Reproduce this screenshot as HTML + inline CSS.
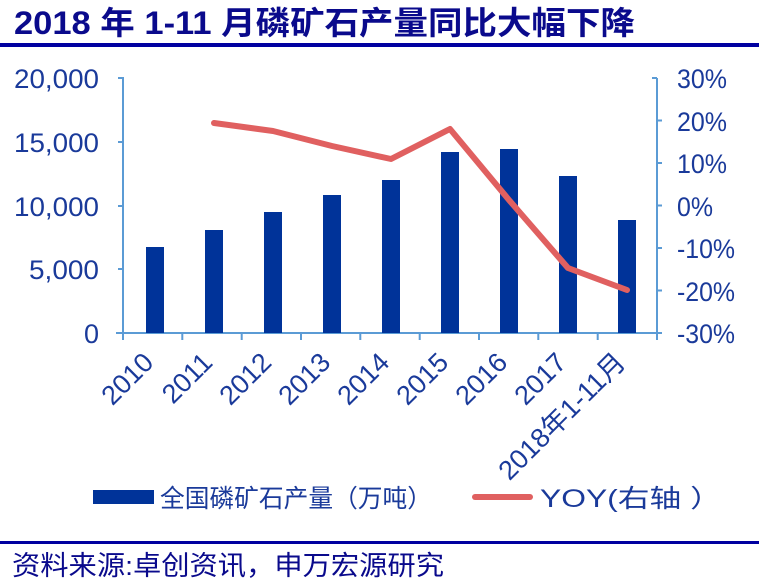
<!DOCTYPE html>
<html><head><meta charset="utf-8"><style>
html,body{margin:0;padding:0;background:#fff;}
svg{display:block;}
text{font-family:"Liberation Sans","Noto Sans CJK SC",sans-serif;}
</style></head><body>
<svg width="759" height="585" viewBox="0 0 759 585" xmlns="http://www.w3.org/2000/svg">
<text x="14" y="34" font-size="32" font-weight="bold" fill="#0a0a8c" textLength="621" lengthAdjust="spacingAndGlyphs">2018 年 1-11 月磷矿石产量同比大幅下降</text>
<rect x="0" y="43" width="759" height="4" fill="#0000a0"/>
<g fill="#1a3a9a" font-size="27">
<text x="99" y="88" text-anchor="end" textLength="85" lengthAdjust="spacingAndGlyphs">20,000</text>
<text x="99" y="152" text-anchor="end" textLength="85" lengthAdjust="spacingAndGlyphs">15,000</text>
<text x="99" y="216" text-anchor="end" textLength="85" lengthAdjust="spacingAndGlyphs">10,000</text>
<text x="99" y="279" text-anchor="end" textLength="70" lengthAdjust="spacingAndGlyphs">5,000</text>
<text x="99" y="343" text-anchor="end">0</text>
<text x="677" y="88" textLength="50" lengthAdjust="spacingAndGlyphs">30%</text>
<text x="677" y="131" textLength="50" lengthAdjust="spacingAndGlyphs">20%</text>
<text x="677" y="173" textLength="50" lengthAdjust="spacingAndGlyphs">10%</text>
<text x="677" y="216" textLength="36" lengthAdjust="spacingAndGlyphs">0%</text>
<text x="677" y="258" textLength="58" lengthAdjust="spacingAndGlyphs">-10%</text>
<text x="677" y="301" textLength="58" lengthAdjust="spacingAndGlyphs">-20%</text>
<text x="677" y="343" textLength="58" lengthAdjust="spacingAndGlyphs">-30%</text>
</g>
<g stroke="#5b9bd5" stroke-width="2" fill="none">
<path d="M118 78H123V333M657 78V333M652 78H657"/>
<path d="M118 142H123M118 206H123M118 269H123"/>
<path d="M657 120.5H662M657 163H662M657 205.5H662M657 248H662M657 290.5H662M657 333H662"/>
<path d="M116 333H662"/>
<path d="M123 333v7M182.3 333v7M241.7 333v7M301 333v7M360.3 333v7M419.7 333v7M479 333v7M538.3 333v7M597.7 333v7M657 333v7"/>
</g>
<g fill="#003399">
<rect x="146" y="247" width="18" height="86"/>
<rect x="205" y="230" width="18" height="103"/>
<rect x="264" y="212" width="18" height="121"/>
<rect x="323" y="195" width="18" height="138"/>
<rect x="382" y="180" width="18" height="153"/>
<rect x="441" y="152" width="18" height="181"/>
<rect x="500" y="149" width="18" height="184"/>
<rect x="559" y="176" width="18" height="157"/>
<rect x="618" y="220" width="18" height="113"/>
</g>
<polyline points="214,123 273,131 332,146 391,159 450,129 509,200 568,268 627,290" fill="none" stroke="#e06060" stroke-width="6" stroke-linejoin="round" stroke-linecap="round"/>
<g fill="#1a3a9a" font-size="27">
<text transform="translate(155,364) rotate(-45)" text-anchor="end">2010</text>
<text transform="translate(214,364) rotate(-45)" text-anchor="end">2011</text>
<text transform="translate(273,364) rotate(-45)" text-anchor="end">2012</text>
<text transform="translate(332,364) rotate(-45)" text-anchor="end">2013</text>
<text transform="translate(391,364) rotate(-45)" text-anchor="end">2014</text>
<text transform="translate(450,364) rotate(-45)" text-anchor="end">2015</text>
<text transform="translate(509,364) rotate(-45)" text-anchor="end">2016</text>
<text transform="translate(568,364) rotate(-45)" text-anchor="end">2017</text>
<text transform="translate(627,364) rotate(-45)" text-anchor="end">2018年1-11月</text>
</g>
<rect x="93" y="490" width="61" height="14" fill="#003399"/>
<text x="160" y="507" font-size="25" fill="#1a3a9a" textLength="272" lengthAdjust="spacingAndGlyphs">全国磷矿石产量（万吨）</text>
<line x1="475" y1="497" x2="530" y2="497" stroke="#e06060" stroke-width="6" stroke-linecap="round"/>
<text x="540" y="507" font-size="25" fill="#1a3a9a" textLength="182" lengthAdjust="spacingAndGlyphs">YOY(右轴 ）</text>
<rect x="0" y="541" width="759" height="3" fill="#0000a0"/>
<text x="12" y="575" font-size="27" fill="#0a0a8c" textLength="432" lengthAdjust="spacingAndGlyphs">资料来源:卓创资讯，申万宏源研究</text>
</svg>
</body></html>
